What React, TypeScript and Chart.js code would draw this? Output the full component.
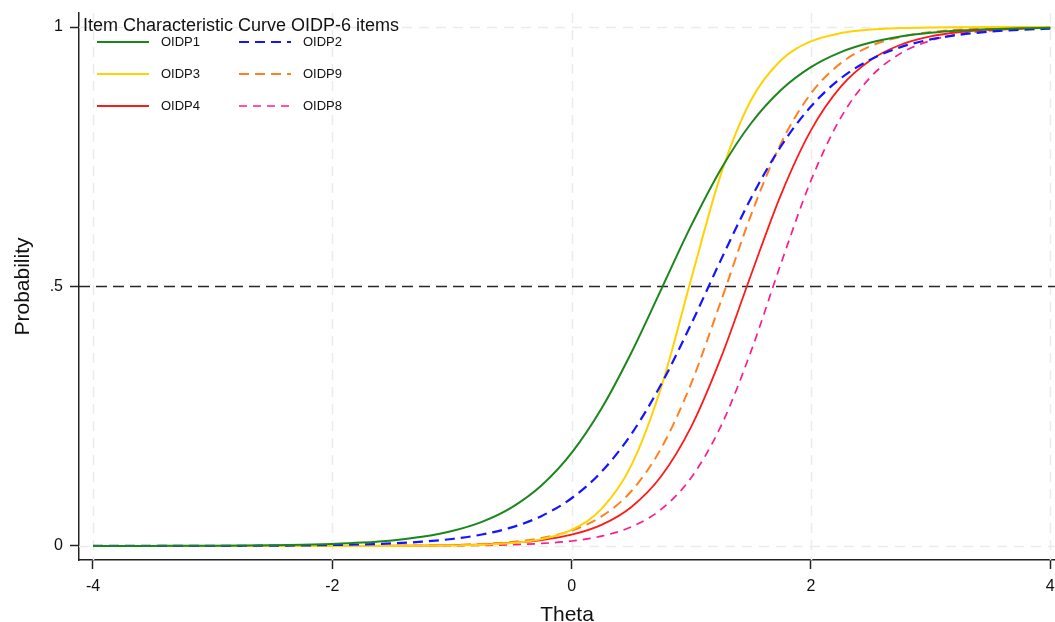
import React, { useEffect, useRef } from "react";
import { Chart, registerables } from "chart.js";

Chart.register(...registerables);

// ---- data ----
const THETA = [
  -4, -3.75, -3.5, -3.25, -3, -2.75, -2.5, -2.25, -2, -1.75, -1.5, -1.25, -1, -0.75, -0.5, -0.25,
  0, 0.25, 0.5, 0.75, 1, 1.25, 1.5, 1.75, 2, 2.25, 2.5, 2.75, 3, 3.25, 3.5, 3.75, 4,
];

const OIDP1 = [
  0.0001, 0.00012, 0.0002, 0.00033, 0.00054, 0.00089, 0.00147, 0.00242, 0.004, 0.0066, 0.0108, 0.0176,
  0.0288, 0.0465, 0.0745, 0.1171, 0.1795, 0.265, 0.3729, 0.495, 0.6177, 0.7271, 0.8146, 0.8787, 0.9227,
  0.9517, 0.9701, 0.9817, 0.9888, 0.9932, 0.9958, 0.9975, 0.9985,
];
const OIDP2 = [
  0.00003, 0.00006, 0.00009, 0.00015, 0.00025, 0.00041, 0.00068, 0.00112, 0.00185, 0.00305, 0.00502,
  0.00824, 0.0135, 0.0221, 0.0359, 0.0579, 0.092, 0.1431, 0.2159, 0.3122, 0.428, 0.5523, 0.6704, 0.7703,
  0.8468, 0.9012, 0.9376, 0.9612, 0.9761, 0.9854, 0.9911, 0.9946, 0.9967,
];
const OIDP3 = [
  0, 0, 0, 0, 0, 0, 0.00001, 0.00001, 0.00003, 0.00007, 0.00017, 0.0004, 0.00097, 0.00232, 0.00554, 0.0132,
  0.0311, 0.0714, 0.1558, 0.3068, 0.515, 0.7181, 0.8593, 0.9361, 0.9723, 0.9883, 0.9951, 0.9979, 0.9991,
  0.9996, 0.9999, 0.9999, 1.0,
];
const OIDP9 = [
  0, 0, 0, 0, 0.00001, 0.00002, 0.00004, 0.00007, 0.00014, 0.00027, 0.00054, 0.00105, 0.00206, 0.00403,
  0.0079, 0.0154, 0.0298, 0.0569, 0.1059, 0.1888, 0.3136, 0.473, 0.6381, 0.7759, 0.8718, 0.9304, 0.9633,
  0.981, 0.9902, 0.995, 0.9974, 0.9987, 0.9993,
];
const OIDP4 = [
  0, 0, 0, 0, 0.00001, 0.00002, 0.00003, 0.00006, 0.00012, 0.00023, 0.00045, 0.00086, 0.00164, 0.00314,
  0.006, 0.0114, 0.0217, 0.0407, 0.0752, 0.1348, 0.2299, 0.3638, 0.5227, 0.6772, 0.8008, 0.8851, 0.9365,
  0.9658, 0.9819, 0.9904, 0.995, 0.9974, 0.9986,
];
const OIDP8 = [
  0, 0, 0, 0, 0, 0.00001, 0.00001, 0.00002, 0.00004, 0.00008, 0.00016, 0.00031, 0.00062, 0.00123, 0.00245,
  0.00485, 0.0096, 0.0189, 0.037, 0.0709, 0.1319, 0.232, 0.3754, 0.5444, 0.7039, 0.8254, 0.9039, 0.9492,
  0.9738, 0.9867, 0.9932, 0.9966, 0.9983,
];

const X_TICKS = [-4, -2, 0, 2, 4];
const Y_TICKS = [0, 0.5, 1];
const GRID_X = [-4, -2, 0, 2, 4];
const GRID_Y = [0, 1];
const REF_LINE = 0.5;
const TITLE = "Item Characteristic Curve OIDP-6 items";
const X_TITLE = "Theta";
const Y_TITLE = "Probability";

// ---- styles ----
const FONT = "'Liberation Sans', Arial, sans-serif";
const SERIES = [
  { label: "OIDP1", values: OIDP1, color: "#1b861b", dash: [] as number[], width: 2, col: 0, row: 0 },
  { label: "OIDP2", values: OIDP2, color: "#1414ff", dash: [10, 6], width: 2.2, col: 1, row: 0 },
  { label: "OIDP3", values: OIDP3, color: "#ffd200", dash: [] as number[], width: 2, col: 0, row: 1 },
  { label: "OIDP9", values: OIDP9, color: "#ff8020", dash: [10, 6], width: 2, col: 1, row: 1 },
  { label: "OIDP4", values: OIDP4, color: "#ff1a1a", dash: [] as number[], width: 1.8, col: 0, row: 2 },
  { label: "OIDP8", values: OIDP8, color: "#ff1a8c", dash: [8, 6], width: 1.7, col: 1, row: 2 },
];

const overlayPlugin = {
  id: "overlay",
  beforeDatasetsDraw(chart: any) {
    const { ctx, chartArea, scales } = chart;
    const { left, right, top, bottom } = chartArea;
    const x = scales.x;
    const y = scales.y;
    ctx.save();
    ctx.strokeStyle = "#ebebeb";
    ctx.lineWidth = 1.5;
    ctx.setLineDash([10, 7]);
    ctx.beginPath();
    GRID_X.forEach((v) => {
      const px = Math.round(x.getPixelForValue(v)) + 0.5;
      ctx.moveTo(px, top);
      ctx.lineTo(px, bottom);
    });
    GRID_Y.forEach((v) => {
      const py = Math.round(y.getPixelForValue(v)) + 0.5;
      ctx.moveTo(left, py);
      ctx.lineTo(right, py);
    });
    ctx.stroke();
    // reference line
    ctx.strokeStyle = "#262626";
    ctx.lineWidth = 1.5;
    ctx.setLineDash([11, 6]);
    ctx.beginPath();
    const ry = y.getPixelForValue(REF_LINE);
    ctx.moveTo(left, ry);
    ctx.lineTo(right, ry);
    ctx.stroke();
    ctx.restore();
  },
  afterDatasetsDraw(chart: any) {
    const { ctx } = chart;
    ctx.save();
    ctx.fillStyle = "#111";
    ctx.textBaseline = "middle";
    ctx.textAlign = "left";
    ctx.font = `18px ${FONT}`;
    ctx.fillText(TITLE, 83, 26);
    const colX = [97, 239];
    const rowY = [42, 74, 106];
    SERIES.forEach((s) => {
      const lx = colX[s.col];
      const ly = rowY[s.row];
      ctx.strokeStyle = s.color;
      ctx.lineWidth = s.width;
      ctx.setLineDash(s.dash);
      ctx.beginPath();
      ctx.moveTo(lx, ly);
      ctx.lineTo(lx + 52, ly);
      ctx.stroke();
      ctx.setLineDash([]);
      ctx.fillStyle = "#111";
      ctx.font = `13px ${FONT}`;
      ctx.fillText(s.label, lx + 64, ly);
    });
    ctx.restore();
  },
};

export default function App() {
  const canvasRef = useRef<HTMLCanvasElement | null>(null);

  useEffect(() => {
    document.body.style.margin = "0";
    const canvas = canvasRef.current;
    if (!canvas) return;
    const datasets = SERIES.map((s) => ({
      label: s.label,
      data: THETA.map((t, i) => ({ x: t, y: s.values[i] })),
      borderColor: s.color,
      backgroundColor: s.color,
      borderWidth: s.width,
      borderDash: s.dash,
      pointRadius: 0,
      fill: false,
      cubicInterpolationMode: "monotone" as const,
    }));
    const chart = new Chart(canvas, {
      type: "line",
      data: { datasets },
      options: {
        animation: false,
        responsive: false,
        maintainAspectRatio: false,
        layout: { padding: { top: 13, right: 0, left: 0, bottom: 0 } },
        plugins: { legend: { display: false }, tooltip: { enabled: false } },
        scales: {
          x: {
            type: "linear",
            min: -4.117,
            max: 4.04,
            afterBuildTicks: (s: any) => {
              s.ticks = X_TICKS.map((v) => ({ value: v }));
            },
            afterFit: (s: any) => {
              s.height = 62;
              s.paddingLeft = 0;
              s.paddingRight = 0;
            },
            grid: { drawOnChartArea: false, drawTicks: true, tickLength: 9, tickColor: "#222", tickWidth: 1.5 },
            border: { display: true, color: "#222", width: 1.5 },
            ticks: {
              color: "#111",
              font: { family: FONT, size: 16 },
              padding: 8,
              maxRotation: 0,
              autoSkip: false,
              callback: (v: any) => String(v),
            },
            title: {
              display: true,
              text: X_TITLE,
              color: "#111",
              font: { family: FONT, size: 21, lineHeight: 0.86 },
              padding: { top: 0, bottom: -2 },
            },
          },
          y: {
            type: "linear",
            min: -0.027,
            max: 1.027,
            afterBuildTicks: (s: any) => {
              s.ticks = Y_TICKS.map((v) => ({ value: v }));
            },
            afterFit: (s: any) => {
              s.width = 79;
              s.paddingTop = 0;
              s.paddingBottom = 0;
            },
            grid: { drawOnChartArea: false, drawTicks: true, tickLength: 9, tickColor: "#222", tickWidth: 1.5 },
            border: { display: true, color: "#222", width: 1.5 },
            ticks: {
              color: "#111",
              font: { family: FONT, size: 16 },
              padding: 7,
              autoSkip: false,
              callback: (v: any) => (v === 0.5 ? ".5" : String(v)),
            },
            title: {
              display: true,
              text: Y_TITLE,
              color: "#111",
              font: { family: FONT, size: 21, lineHeight: 1.2 },
              padding: { top: 11, bottom: 0 },
            },
          },
        },
      },
      plugins: [overlayPlugin],
    });
    return () => chart.destroy();
  }, []);

  return (
    <div style={{ position: "fixed", left: 0, top: 0, width: 1055, height: 622, background: "#fff" }}>
      <canvas ref={canvasRef} width={1055} height={622} style={{ display: "block", width: 1055, height: 622 }} />
    </div>
  );
}
